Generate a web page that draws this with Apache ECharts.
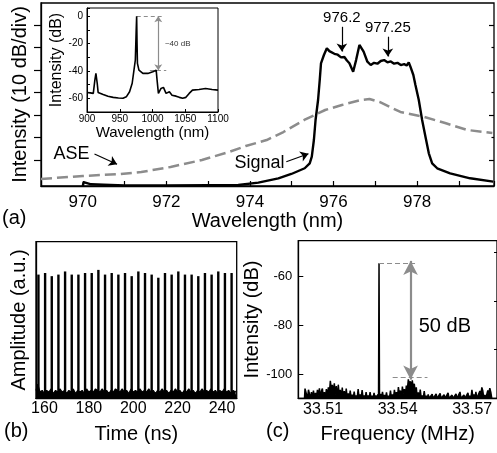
<!DOCTYPE html>
<html>
<head>
<meta charset="utf-8">
<script src="https://cdn.jsdelivr.net/npm/echarts@6/dist/echarts.min.js"></script>
<style>
  html, body { margin: 0; padding: 0; background: #fff; }
  #chart { width: 497px; height: 453px; }
</style>
</head>
<body>
<div id="chart"></div>
<script>
// (a) main spectrum: wavelength (nm) vs intensity (dB, 0 = reference tick)
const aseData = [
  [969.0, -4.22], [970.0, -3.56], [970.9, -3.11], [971.4, -2.67], [972.1, -1.56],
  [972.85, 0], [973.5, 1.78], [973.9, 3.11], [974.4, 4.44], [974.8, 6.22],
  [975.3, 8.89], [975.8, 11.11], [976.2, 12.22], [976.65, 13.33], [976.86, 13.56],
  [977.1, 12.89], [977.6, 10.67], [978.17, 9.56], [978.67, 8.22], [979.2, 6.67], [979.8, 6.0]
];
const signalData = [
  [970.0, -5.78], [970.02, -4.9], [970.2, -5.4], [970.5, -5.5], [971.0, -5.67],
  [972.0, -5.67], [973.0, -5.6], [973.72, -5.56], [974.2, -5.04], [974.68, -4.07],
  [974.99, -3.11], [975.31, -1.84], [975.43, -0.73], [975.48, 0.73], [975.53, 4.44],
  [975.57, 8.89], [975.63, 13.33], [975.67, 17.78], [975.70, 21.49], [975.77, 23.33],
  [975.84, 24.82], [975.9, 24.2], [975.94, 24.5], [976.02, 23.6], [976.10, 23.4],
  [976.18, 22.8], [976.26, 22.9], [976.32, 22.1], [976.38, 21.5], [976.47, 19.6],
  [976.54, 22.2], [976.62, 25.56], [976.72, 24.07], [976.81, 21.84], [976.89, 21.11],
  [976.97, 21.6], [977.05, 21.4], [977.13, 22.0], [977.21, 22.2], [977.29, 21.7],
  [977.37, 21.9], [977.45, 21.4], [977.53, 21.6], [977.61, 21.1], [977.69, 21.3],
  [977.75, 21.0], [977.80, 21.7], [977.84, 20.73], [977.91, 18.89], [977.96, 16.67],
  [978.04, 13.33], [978.12, 8.89], [978.20, 5.18], [978.28, 1.49], [978.36, -0.73],
  [978.48, -1.84], [978.79, -2.96], [979.27, -4.07], [979.82, -4.82]
];
const mainTicks = [0, 5, 10, 15, 20, 25, 30];
const mainMajor = [0, 10, 20, 30];
const mainMinor = [5, 15, 25];

// (a) inset: full spectrum, wavelength (nm) vs intensity (dB)
const insetData = [
  [900, -55.7], [905, -56], [909.6, -56.4], [912, -46.7], [913.6, -41.8], [915.6, -49],
  [917, -55.7], [924.7, -57.2], [932, -58.5], [940, -59.3], [948, -59.8], [955, -60],
  [960, -58.9], [965, -55.2], [969, -49], [971.7, -39.4], [973.8, -32], [975, -12],
  [975.8, 0], [976.4, -20], [977, -34.5], [979.3, -39.4], [985.3, -41.8], [992.9, -41.8],
  [1000.5, -40.6], [1005.6, -39.4], [1007, -46.7], [1009, -56.4], [1013, -52.8],
  [1016.7, -52], [1020.7, -56.4], [1025.8, -55.2], [1029.8, -57.7], [1036, -58.4],
  [1041, -59.3], [1046, -60], [1051, -59.3], [1056, -56.4], [1061, -54], [1071, -53.5],
  [1081, -52.8], [1091, -53.5], [1100, -54]
];

// (b) pulse train: time (ns) and amplitude (a.u.)
const pulseTimes = [157.3, 160.3, 163.3, 166.3, 169.3, 172.3, 175.3, 178.3, 181.3, 184.3,
  187.3, 190.3, 193.3, 196.3, 199.3, 202.3, 205.3, 208.3, 211.3, 214.3,
  217.3, 220.3, 223.3, 226.3, 229.3, 232.3, 235.3, 238.3, 241.3, 244.3];
const pulseHeights = [0.79, 0.80, 0.78, 0.79, 0.81, 0.79, 0.79, 0.80, 0.80, 0.82,
  0.79, 0.80, 0.79, 0.80, 0.78, 0.81, 0.80, 0.79, 0.77, 0.80,
  0.79, 0.81, 0.79, 0.79, 0.78, 0.80, 0.79, 0.81, 0.80, 0.80];
const timeNoise = [
  [156.2, 0.05], [157.0, 0.09], [158.0, 0.04], [159.0, 0.05], [160.0, 0.03], [161.0, 0.05],
  [162.0, 0.04], [163.0, 0.06], [164.0, 0.03], [165.0, 0.05], [166.0, 0.04], [167.0, 0.06],
  [168.0, 0.04], [169.0, 0.05], [170.0, 0.03], [171.0, 0.05], [172.0, 0.04], [173.0, 0.06],
  [174.0, 0.03], [175.0, 0.05], [176.0, 0.04], [177.0, 0.05], [178.0, 0.03], [179.0, 0.06],
  [180.0, 0.04], [181.0, 0.05], [182.0, 0.04], [183.0, 0.06], [184.0, 0.05], [185.0, 0.04],
  [186.0, 0.06], [187.0, 0.04], [188.0, 0.05], [189.0, 0.03], [190.0, 0.05], [191.0, 0.04],
  [192.0, 0.06], [193.0, 0.05], [194.0, 0.04], [195.0, 0.06], [196.0, 0.04], [197.0, 0.05],
  [198.0, 0.03], [199.0, 0.06], [200.0, 0.04], [201.0, 0.05], [202.0, 0.04], [203.0, 0.06],
  [204.0, 0.04], [205.0, 0.05], [206.0, 0.04], [207.0, 0.06], [208.0, 0.04], [209.0, 0.05],
  [210.0, 0.03], [211.0, 0.05], [212.0, 0.04], [213.0, 0.06], [214.0, 0.04], [215.0, 0.05],
  [216.0, 0.03], [217.0, 0.05], [218.0, 0.04], [219.0, 0.06], [220.0, 0.04], [221.0, 0.05],
  [222.0, 0.03], [223.0, 0.05], [224.0, 0.04], [225.0, 0.06], [226.0, 0.04], [227.0, 0.05],
  [228.0, 0.03], [229.0, 0.05], [230.0, 0.04], [231.0, 0.06], [232.0, 0.04], [233.0, 0.05],
  [234.0, 0.04], [235.0, 0.06], [236.0, 0.04], [237.0, 0.05], [238.0, 0.03], [239.0, 0.05],
  [240.0, 0.04], [241.0, 0.06], [242.0, 0.04], [243.0, 0.05], [244.0, 0.03], [245.0, 0.05],
  [246.0, 0.04], [246.6, 0.05]
];
const timeLabels = [160, 180, 200, 220, 240];

// (c) RF spectrum: frequency (MHz) vs intensity (dB)
const rfData = [
  [33.5025, -110], [33.5027, -106.0], [33.5033, -105.4], [33.5037, -110], [33.5041, -106.5],
  [33.5045, -105.8], [33.5049, -110], [33.5053, -107.5], [33.5057, -110], [33.5061, -106.8],
  [33.5065, -110], [33.5069, -107.8], [33.5073, -110], [33.5077, -106.5], [33.5081, -108.8],
  [33.5085, -105.9], [33.5089, -110], [33.5093, -107.0], [33.5097, -106.0], [33.5101, -110],
  [33.5105, -107.5], [33.5109, -110], [33.5113, -106.2], [33.5117, -109.5], [33.5121, -105.5],
  [33.5125, -108.0], [33.5129, -102.8], [33.5133, -106.5], [33.5137, -104.5], [33.5141, -107.8],
  [33.5145, -103.8], [33.5149, -108.5], [33.5153, -105.0], [33.5157, -110], [33.5161, -104.4],
  [33.5165, -109.0], [33.5169, -106.5], [33.5173, -110], [33.5177, -105.6], [33.5181, -110],
  [33.5185, -107.0], [33.5189, -110], [33.5193, -106.0], [33.5197, -110], [33.5201, -108.0],
  [33.5205, -110], [33.5209, -106.8], [33.5213, -110], [33.5217, -108.5], [33.5221, -110],
  [33.5225, -107.3], [33.5229, -110], [33.5233, -108.8], [33.5237, -110], [33.5241, -106.2],
  [33.5245, -110], [33.5249, -108.4], [33.5253, -110], [33.5257, -106.6], [33.5261, -110],
  [33.5265, -108.8], [33.5269, -110], [33.5273, -107.5], [33.5277, -110], [33.5281, -108.9],
  [33.5285, -110], [33.5289, -107.5], [33.5293, -110], [33.5297, -109.0], [33.5301, -110],
  [33.5305, -107.8], [33.5309, -110], [33.5313, -108.8], [33.5317, -110], [33.5321, -108.3],
  [33.5323, -110], [33.5325, -54.5], [33.5327, -110], [33.5331, -108.2], [33.5335, -110],
  [33.5339, -107.4], [33.5343, -110], [33.5347, -108.6], [33.5351, -110], [33.5355, -107.6],
  [33.5359, -110], [33.5363, -109.0], [33.5367, -110], [33.5371, -106.8], [33.5375, -110],
  [33.5379, -108.4], [33.5383, -110], [33.5387, -106.5], [33.5391, -109.5], [33.5395, -107.5],
  [33.5399, -110], [33.5403, -105.4], [33.5407, -108.5], [33.5411, -106.8], [33.5415, -110],
  [33.5419, -105.2], [33.5423, -108.0], [33.5427, -106.2], [33.5431, -109.0], [33.5435, -104.8],
  [33.5439, -106.5], [33.5443, -102.2], [33.5447, -104.5], [33.5451, -103.0], [33.5455, -105.5],
  [33.5459, -102.6], [33.5463, -106.0], [33.5467, -104.0], [33.5471, -108.0], [33.5475, -105.5],
  [33.5479, -110], [33.5483, -107.6], [33.5487, -110], [33.5491, -106.4], [33.5495, -110],
  [33.5499, -108.8], [33.5503, -110], [33.5507, -107.0], [33.5511, -110], [33.5515, -109.0],
  [33.5519, -110], [33.5523, -108.4], [33.5527, -110], [33.5531, -109.2], [33.5535, -110],
  [33.5539, -108.3], [33.5543, -110], [33.5547, -109.3], [33.5551, -110], [33.5555, -108.2],
  [33.5559, -110], [33.5563, -109.4], [33.5567, -110], [33.5571, -108.0], [33.5575, -110],
  [33.5579, -109.2], [33.5583, -110], [33.5587, -108.5], [33.5591, -110], [33.5595, -109.4],
  [33.5599, -110], [33.5603, -107.8], [33.5607, -110], [33.5611, -109.3], [33.5615, -110],
  [33.5619, -108.7], [33.5623, -110], [33.5627, -109.4], [33.5631, -110], [33.5635, -108.2],
  [33.5639, -110], [33.5643, -109.2], [33.5647, -110], [33.5651, -107.4], [33.5655, -110],
  [33.5659, -109.3], [33.5663, -110], [33.5667, -108.6], [33.5671, -110], [33.5675, -109.4],
  [33.5679, -110], [33.5683, -107.8], [33.5687, -110], [33.5691, -109.0], [33.5695, -110],
  [33.5699, -106.5], [33.5703, -109.5], [33.5707, -108.4], [33.5711, -110], [33.5715, -107.4],
  [33.5719, -110], [33.5723, -109.2], [33.5727, -110], [33.5731, -107.0], [33.5735, -108.5],
  [33.5739, -105.5], [33.5743, -107.0], [33.5747, -110], [33.5751, -108.6], [33.5755, -110],
  [33.5759, -109.2], [33.5763, -106.8], [33.5767, -108.0], [33.5771, -105.8], [33.5775, -107.5],
  [33.5779, -110]
];
const freqLabels = [33.51, 33.54, 33.57];
const rfMajor = [-100, -80, -60];
const rfMinor = [-90, -70, -50];

// annotation anchors (data units)
const peakNotes = [['976.2', 976.2, 31.6, 29.6, 24.1], ['977.25', 977.3, 29.3, 27.4, 23.0]];
const aseNote = { text: [969.73, 1.33], from: [970.28, 1.33], to: [970.82, -0.95] };
const sigNote = { text: [974.23, -0.67], from: [974.87, -0.4], to: [975.4, 1.4] };
const insetNote = { top: 0, bottom: -39.4, arrowX: 1008.8, textAt: [1019, -20] };
const rfNote = { top: -54.5, bottom: -101.3, arrowX: 33.5452, textAt: [33.559, -80.5] };

const FONT = 'Liberation Sans, Arial, sans-serif';
const BLACK = '#000';
const GREY = '#8c8c8c';
const axisLine = { show: true, onZero: false, lineStyle: { color: BLACK, width: 1.3 } };
const thinLine = { show: true, onZero: false, lineStyle: { color: BLACK, width: 1 } };
const noSplit = { show: false };
const frame = { show: true, borderColor: BLACK, borderWidth: 1.3 };

const chart = echarts.init(document.getElementById('chart'));

chart.setOption({
  animation: false,
  backgroundColor: '#fff',
  textStyle: { fontFamily: FONT, color: BLACK },
  grid: [
    Object.assign({ left: 41, top: 3, width: 456, height: 183 }, frame),
    Object.assign({ left: 87, top: 8, width: 131, height: 104, backgroundColor: '#fff' }, frame, { borderWidth: 1 }),
    Object.assign({ left: 36, top: 241.7, width: 200.7, height: 156.6 }, frame),
    Object.assign({ left: 298.3, top: 240.7, width: 198.7, height: 157.6 }, frame)
  ],
  xAxis: [
    {
      gridIndex: 0, type: 'value', min: 969, max: 979.84, interval: 1,
      axisLine, splitLine: noSplit,
      axisTick: { inside: true, length: 5, lineStyle: { color: BLACK, width: 1.2 } },
      axisLabel: { fontSize: 17, color: BLACK, margin: 8, formatter: v => (v % 2 === 0 ? String(v) : '') },
      name: 'Wavelength (nm)', nameLocation: 'middle', nameGap: 22,
      nameTextStyle: { fontSize: 20, color: BLACK }
    },
    {
      gridIndex: 1, type: 'value', min: 900, max: 1100, interval: 50,
      axisLine: thinLine, splitLine: noSplit,
      axisTick: { inside: true, length: 3, lineStyle: { color: BLACK } },
      axisLabel: { fontSize: 10, color: BLACK, margin: 2, formatter: v => String(v) },
      name: 'Wavelength (nm)', nameLocation: 'middle', nameGap: 13,
      nameTextStyle: { fontSize: 15, color: BLACK }
    },
    {
      gridIndex: 2, type: 'value', min: 156.2, max: 246.6,
      axisLine, splitLine: noSplit, axisTick: { show: false },
      axisLabel: { fontSize: 16, color: BLACK, margin: 2, customValues: timeLabels },
      name: 'Time (ns)', nameLocation: 'middle', nameGap: 26,
      nameTextStyle: { fontSize: 20, color: BLACK }
    },
    {
      gridIndex: 3, type: 'value', min: 33.50, max: 33.58,
      axisLine, splitLine: noSplit,
      axisTick: { inside: true, length: 4, customValues: freqLabels, lineStyle: { color: BLACK } },
      axisLabel: { fontSize: 16, color: BLACK, margin: 3, customValues: freqLabels, formatter: v => v.toFixed(2) },
      name: 'Frequency (MHz)', nameLocation: 'middle', nameGap: 26,
      nameTextStyle: { fontSize: 20, color: BLACK }
    }
  ],
  yAxis: [
    {
      gridIndex: 0, type: 'value', min: -5.78, max: 34.89,
      axisLine, splitLine: noSplit, axisLabel: { show: false },
      axisTick: { length: 7, customValues: mainTicks, lineStyle: { color: BLACK, width: 1.2 } },
      name: 'Intensity (10 dB/div)', nameLocation: 'middle', nameGap: 11,
      nameTextStyle: { fontSize: 20, color: BLACK }
    },
    {
      gridIndex: 0, type: 'value', position: 'right', min: -5.78, max: 34.89,
      axisLine: { show: false }, splitLine: noSplit, axisLabel: { show: false },
      axisTick: { inside: true, length: 5, customValues: mainMajor, lineStyle: { color: BLACK, width: 1.2 } }
    },
    {
      gridIndex: 0, type: 'value', position: 'right', min: -5.78, max: 34.89,
      axisLine: { show: false }, splitLine: noSplit, axisLabel: { show: false },
      axisTick: { inside: true, length: 2.5, customValues: mainMinor, lineStyle: { color: BLACK, width: 1.2 } }
    },
    {
      gridIndex: 1, type: 'value', min: -70, max: 6, interval: 10,
      axisLine: thinLine, splitLine: noSplit,
      axisTick: { inside: true, length: 3, lineStyle: { color: BLACK } },
      axisLabel: { fontSize: 10, color: BLACK, margin: 4, formatter: v => (v % 20 === 0 ? String(v) : '') },
      name: 'Intensity (dB)', nameLocation: 'middle', nameGap: 17,
      nameTextStyle: { fontSize: 16, color: BLACK }
    },
    {
      gridIndex: 2, type: 'value', min: 0, max: 1,
      axisLine, splitLine: noSplit, axisLabel: { show: false }, axisTick: { show: false },
      name: 'Amplitude (a.u.)', nameLocation: 'middle', nameGap: 7,
      nameTextStyle: { fontSize: 20, color: BLACK }
    },
    {
      gridIndex: 3, type: 'value', min: -110, max: -45.2,
      axisLine, splitLine: noSplit,
      axisTick: { inside: true, length: 5, customValues: rfMajor, lineStyle: { color: BLACK } },
      axisLabel: { fontSize: 13, color: BLACK, margin: 6, customValues: rfMajor },
      name: 'Intensity (dB)', nameLocation: 'middle', nameGap: 30,
      nameTextStyle: { fontSize: 20, color: BLACK }
    },
    {
      gridIndex: 3, type: 'value', min: -110, max: -45.2,
      axisLine: { show: false }, splitLine: noSplit, axisLabel: { show: false },
      axisTick: { inside: true, length: 3, customValues: rfMinor, lineStyle: { color: BLACK } }
    }
  ],
  graphic: [
    { type: 'text', left: 2, top: 208, style: { text: '(a)', fontSize: 20, fontFamily: FONT, fill: BLACK } },
    { type: 'text', left: 4, top: 421, style: { text: '(b)', fontSize: 20, fontFamily: FONT, fill: BLACK } },
    { type: 'text', left: 266, top: 421, style: { text: '(c)', fontSize: 20, fontFamily: FONT, fill: BLACK } }
  ],
  series: [
    {
      name: 'ASE', type: 'line', xAxisIndex: 0, yAxisIndex: 0, data: aseData,
      symbol: 'none', silent: true,
      lineStyle: { color: GREY, width: 2.5, type: [11, 5] },
      markLine: {
        silent: true, symbol: ['none', 'arrow'], symbolSize: 8,
        lineStyle: { color: BLACK, width: 1.2, type: 'solid' }, label: { show: false },
        data: [[{ coord: aseNote.from }, { coord: aseNote.to }]]
      },
      markPoint: {
        silent: true, symbol: 'circle', symbolSize: 0,
        label: { show: true, position: 'inside', fontSize: 18, color: BLACK, formatter: 'ASE' },
        data: [{ coord: aseNote.text }]
      }
    },
    {
      name: 'Signal', type: 'line', xAxisIndex: 0, yAxisIndex: 0, data: signalData,
      symbol: 'none', silent: true,
      lineStyle: { color: BLACK, width: 2.4 },
      markLine: {
        silent: true, symbol: ['none', 'arrow'], symbolSize: 8,
        lineStyle: { color: BLACK, width: 1.2, type: 'solid' }, label: { show: false },
        data: [
          [{ coord: sigNote.from }, { coord: sigNote.to }],
          ...peakNotes.map(p => [{ coord: [p[1], p[3]] }, { coord: [p[1], p[4]] }])
        ]
      },
      markPoint: {
        silent: true, symbol: 'circle', symbolSize: 0,
        label: { show: true, position: 'inside', color: BLACK },
        data: [
          { coord: sigNote.text, label: { formatter: 'Signal', fontSize: 18 } },
          ...peakNotes.map(p => ({ coord: [p[1], p[2]], label: { formatter: p[0], fontSize: 15 } }))
        ]
      }
    },
    {
      name: 'inset', type: 'line', xAxisIndex: 1, yAxisIndex: 3, data: insetData,
      symbol: 'none', silent: true, z: 5,
      lineStyle: { color: BLACK, width: 1.6 },
      markLine: {
        silent: true, symbol: ['none', 'none'], label: { show: false },
        lineStyle: { color: GREY, width: 1, type: [4, 3] },
        data: [
          [{ coord: [976, insetNote.top] }, { coord: [1014, insetNote.top] }],
          [{ coord: [996, insetNote.bottom] }, { coord: [1021, insetNote.bottom] }],
          [
            { coord: [insetNote.arrowX, insetNote.top], symbol: 'arrow', symbolSize: 6, lineStyle: { type: 'solid', width: 1.2 } },
            { coord: [insetNote.arrowX, insetNote.bottom], symbol: 'arrow', symbolSize: 6 }
          ]
        ]
      },
      markPoint: {
        silent: true, symbol: 'circle', symbolSize: 0,
        label: { show: true, position: 'right', distance: 0, fontSize: 8, color: '#333', formatter: '~40 dB' },
        data: [{ coord: insetNote.textAt }]
      }
    },
    {
      name: 'noise', type: 'line', xAxisIndex: 2, yAxisIndex: 4, data: timeNoise,
      symbol: 'none', silent: true,
      lineStyle: { color: BLACK, width: 1.2 },
      areaStyle: { color: BLACK, opacity: 1, origin: 'start' }
    },
    {
      name: 'pulses', type: 'bar', xAxisIndex: 2, yAxisIndex: 4,
      data: pulseTimes.map((t, i) => [t, pulseHeights[i]]),
      barWidth: 2.4, silent: true, itemStyle: { color: BLACK }
    },
    {
      name: 'rf', type: 'line', xAxisIndex: 3, yAxisIndex: 5, data: rfData,
      symbol: 'none', silent: true,
      lineStyle: { color: BLACK, width: 1.5 },
      areaStyle: { color: BLACK, opacity: 1, origin: 'start' },
      markLine: {
        silent: true, symbol: ['none', 'none'], label: { show: false },
        lineStyle: { color: GREY, width: 1, type: [5, 3] },
        data: [
          [{ coord: [33.5325, rfNote.top] }, { coord: [33.547, rfNote.top] }],
          [{ coord: [33.538, rfNote.bottom] }, { coord: [33.552, rfNote.bottom] }],
          [
            { coord: [rfNote.arrowX, rfNote.top + 1], symbol: 'arrow', symbolSize: [11, 14], lineStyle: { type: 'solid', width: 2.2 } },
            { coord: [rfNote.arrowX, rfNote.bottom - 1], symbol: 'arrow', symbolSize: [11, 14] }
          ]
        ]
      },
      markPoint: {
        silent: true, symbol: 'circle', symbolSize: 0,
        label: { show: true, position: 'inside', fontSize: 20, color: BLACK, formatter: '50 dB' },
        data: [{ coord: rfNote.textAt }]
      }
    }
  ]
});
</script>
</body>
</html>
